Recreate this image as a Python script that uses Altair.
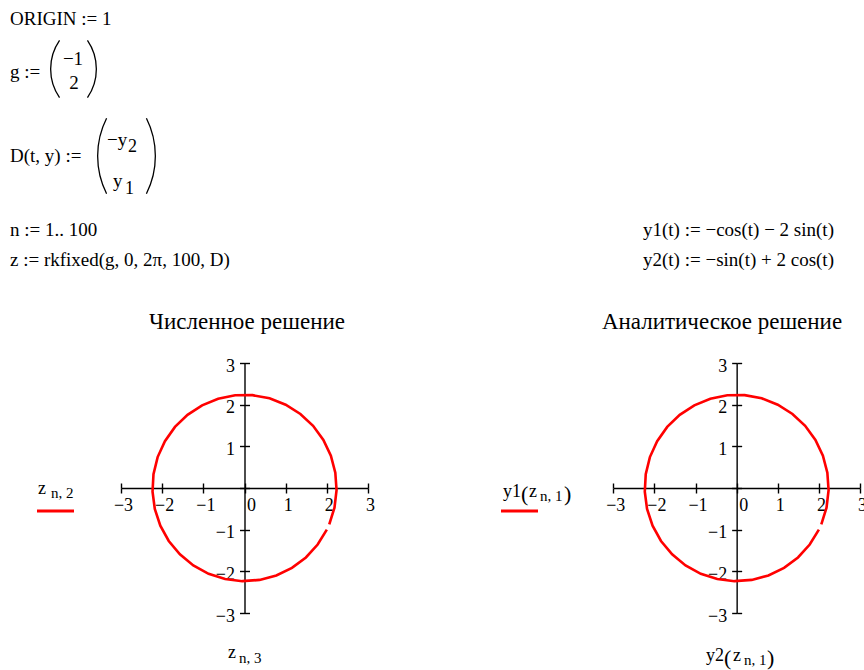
import math
import altair as alt
import pandas as pd

# ---- trajectory samples (every 3rd of the 100 rkfixed steps, t = 0 .. 99*2pi/100) ----
step = [0, 3, 6, 9, 12, 15, 18, 21, 24, 27, 30, 33, 36, 39, 42, 45, 48,
        51, 54, 57, 60, 63, 66, 69, 72, 75, 78, 81, 84, 87, 90, 93, 96, 99]
# numerical solution: z[n,3] (horizontal) and z[n,2] (vertical)
z3 = [2.000, 1.777, 1.492, 1.153, 0.773, 0.367, -0.053, -0.471, -0.872,
      -1.243, -1.569, -1.840, -2.045, -2.179, -2.234, -2.211, -2.110,
      -1.933, -1.689, -1.384, -1.030, -0.640, -0.227, 0.194, 0.608,
      1.000, 1.357, 1.666, 1.916, 2.098, 2.206, 2.236, 2.186, 2.059]
z2 = [-1.000, -1.357, -1.666, -1.916, -2.098, -2.206, -2.236, -2.186,
      -2.059, -1.859, -1.593, -1.271, -0.904, -0.504, -0.087, 0.333,
      0.742, 1.124, 1.466, 1.756, 1.985, 2.143, 2.225, 2.228, 2.152,
      2.000, 1.777, 1.492, 1.153, 0.773, 0.367, -0.053, -0.471, -0.872]
# analytic solution y2(t) (horizontal) and y1(t) (vertical) at the same t
y2_vals = list(z3)
y1_vals = list(z2)

TICKS = [-3, -2, -1, 0, 1, 2, 3]

W, H = 864, 670
FONT = "'Liberation Serif', 'Times New Roman', 'DejaVu Serif', serif"
RED = "#ff0000"
FS = 19  # worksheet math font size

numeric = pd.DataFrame({"step": step, "h": z3, "v": z2})
analytic = pd.DataFrame({"step": step, "h": y2_vals, "v": y1_vals})
tick_df = pd.DataFrame({"t": TICKS})

ONE = alt.Data(values=[{}])


def txt(s, x, y, size=FS, align="left"):
    return alt.Chart(ONE).mark_text(
        text=s, font=FONT, fontSize=size, align=align,
        baseline="alphabetic", color="black"
    ).encode(x=alt.value(x), y=alt.value(y))


def bracket(x_mid, y_mid, half_h, depth, side):
    # thin circular arc standing in for a tall matrix parenthesis
    r = (half_h ** 2 + depth ** 2) / (2 * depth)
    half = math.asin(half_h / r)
    if side == "left":
        cx, mid = x_mid + r, 1.5 * math.pi
    else:
        cx, mid = x_mid - r, 0.5 * math.pi
    return alt.Chart(ONE).mark_arc(
        radius=r, radius2=r - 1.3, theta=mid - half, theta2=mid + half,
        color="black"
    ).encode(x=alt.value(cx), y=alt.value(y_mid))


def panel(df, x_range, y_range):
    xs = alt.Scale(domain=[-3, 3], range=x_range, nice=False, zero=False)
    ys = alt.Scale(domain=[-3, 3], range=y_range, nice=False, zero=False)
    x0 = (x_range[0] + x_range[1]) / 2
    y0 = (y_range[0] + y_range[1]) / 2
    common = dict(values=TICKS, grid=False, title=None,
                  domainColor="black", domainWidth=1.4,
                  tickColor="black", tickWidth=1.4, tickSize=5,
                  labelFont=FONT, labelFontSize=18, labelColor="black",
                  labelFlush=False, labelOverlap=False)
    x_axis = alt.Axis(
        orient="bottom", offset=y0 - H, labelPadding=3, labelOffset=2,
        labelAlign={"condition": {"test": "datum.value == 0", "value": "left"},
                    "value": "center"},
        **common)
    y_axis = alt.Axis(
        orient="left", offset=-x0, labelPadding=5, labelOffset=3,
        labelExpr="datum.value == 0 ? '' : datum.label", **common)
    curve = alt.Chart(df).mark_line(color=RED, strokeWidth=2.6).encode(
        x=alt.X("h:Q", scale=xs, axis=x_axis),
        y=alt.Y("v:Q", scale=ys, axis=y_axis),
        order="step:Q",
    )
    # the other half of each crossing tick
    other = dict(common)
    other.update(labels=False, domain=False)
    ticks = alt.Chart(tick_df).mark_point(opacity=0).encode(
        x=alt.X("t:Q", scale=xs,
                axis=alt.Axis(orient="top", offset=-y0, **other)),
        y=alt.Y("t:Q", scale=ys,
                axis=alt.Axis(orient="right", offset=x0 - W, **other)),
    )
    return [curve, ticks]


def legend_line(x1, x2, y):
    return alt.Chart(ONE).mark_rule(color=RED, strokeWidth=3).encode(
        x=alt.value(x1), x2=alt.value(x2), y=alt.value(y))


layers = []
# worksheet definitions
layers += [
    txt("ORIGIN := 1", 10, 25),
    txt("g :=", 10, 78),
    bracket(50, 69, 29, 9, "left"),
    txt("\u22121", 73, 65, align="center"),
    txt("2", 74, 89, align="center"),
    bracket(97, 69, 29, 9, "right"),
    txt("D(t, y) :=", 10, 162),
    bracket(97, 156, 38, 9, "left"),
    txt("\u2212y", 107, 146),
    txt("2", 128, 152, size=18),
    txt("y", 113, 187),
    txt("1", 125, 194, size=18),
    bracket(156, 156, 38, 9, "right"),
    txt("n := 1.. 100", 10, 236),
    txt("z := rkfixed(g, 0, 2\u03c0, 100, D)", 10, 266),
    txt("y1(t) := \u2212cos(t) \u2212 2 sin(t)", 643, 236),
    txt("y2(t) := \u2212sin(t) + 2 cos(t)", 643, 266),
]
# plot titles
layers += [
    txt("Численное решение", 247, 329, size=23, align="center"),
    txt("Аналитическое решение", 722, 329, size=23, align="center"),
]
# left plot: trace label, its line sample, horizontal label
layers += [
    txt("z", 38, 494, size=18),
    txt("n, 2", 51, 498, size=15),
    legend_line(37, 74, 511),
    txt("z", 228, 658, size=18),
    txt("n, 3", 239, 663, size=15),
]
# right plot labels
layers += [
    txt("y1", 503, 497, size=18),
    txt("(", 521, 501, size=22),
    txt("z", 529, 497, size=18),
    txt("n, 1", 540, 501, size=15),
    txt(")", 564, 501, size=22),
    legend_line(501, 538, 511),
    txt("y2", 706, 661, size=18),
    txt("(", 724, 665, size=22),
    txt("z", 733, 661, size=18),
    txt("n, 1", 744, 665, size=15),
    txt(")", 767, 665, size=22),
]
# the two phase-plane plots
layers += panel(numeric, [121, 368], [613, 363])
layers += panel(analytic, [613.3, 860], [613, 363])

chart = alt.layer(*layers).resolve_scale(
    x="independent", y="independent"
).resolve_axis(
    x="independent", y="independent"
).properties(
    width=W, height=H, padding=0,
    autosize=alt.AutoSizeParams(type="none"),
    background="white",
).configure_view(stroke=None)

chart.save("out.html", embed_options={"renderer": "svg", "actions": False})
